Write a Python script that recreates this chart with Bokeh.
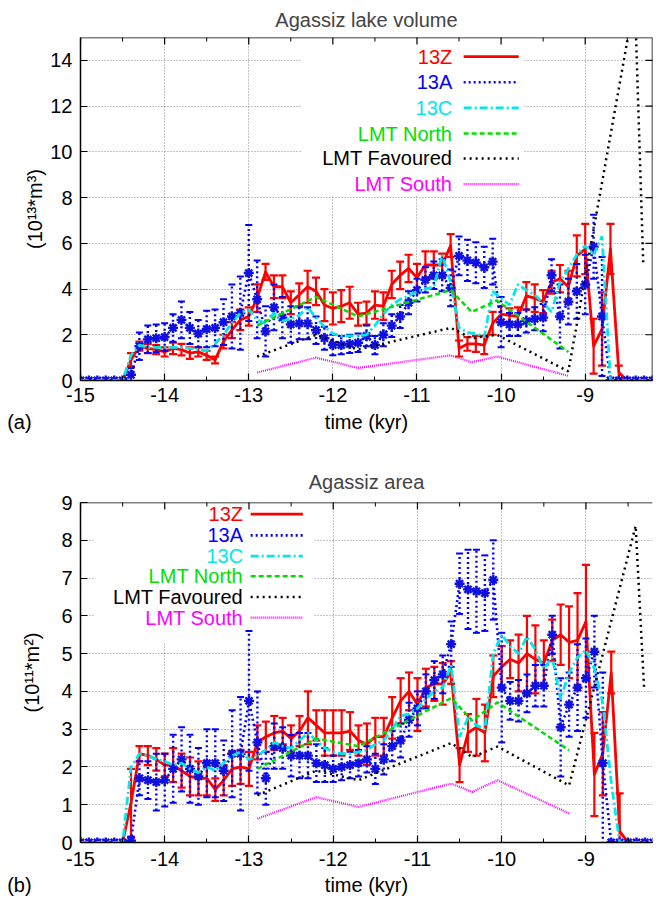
import math
from bokeh.plotting import figure
from bokeh.layouts import column
from bokeh.models import Range1d, FixedTicker, LinearAxis, Span
from bokeh.core.properties import value
from bokeh.embed import file_html
from bokeh.resources import INLINE

FONT = "Liberation Sans"

# ---------------- data ----------------
time_kyr = [-15.0, -14.9, -14.8, -14.7, -14.6, -14.5, -14.4, -14.3, -14.2, -14.1,
            -14.0, -13.9, -13.8, -13.7, -13.6, -13.5, -13.4, -13.3, -13.2, -13.1,
            -13.0, -12.9, -12.8, -12.7, -12.6, -12.5, -12.4, -12.3, -12.2, -12.1,
            -12.0, -11.9, -11.8, -11.7, -11.6, -11.5, -11.4, -11.3, -11.2, -11.1,
            -11.0, -10.9, -10.8, -10.7, -10.6, -10.5, -10.4, -10.3, -10.2, -10.1,
            -10.0, -9.9, -9.8, -9.7, -9.6, -9.5, -9.4, -9.3, -9.2, -9.1,
            -9.0, -8.9, -8.8, -8.7, -8.6, -8.5, -8.4, -8.3, -8.2]

# Lake volume (10^13 m^3)
vol_13Z = [0, 0, 0, 0, 0, 0, 0.9, 1.5, 1.4, 1.35,
           1.25, 1.4, 1.35, 1.2, 1.25, 1.1, 0.9, 1.7, 2.2, 2.65,
           2.8, 3.6, 4.75, 4.1, 4.1, 3.4, 3.75, 4.1, 3.9, 3.3,
           3.15, 3.25, 3.4, 2.9, 2.95, 3.3, 3.25, 4.2, 4.6, 4.9,
           4.5, 5.05, 5.05, 5.05, 5.9, 1.4, 1.6, 1.6, 1.55, 2.5,
           2.9, 2.85, 2.8, 3.7, 3.6, 3.45, 4.3, 4.45, 4.1, 5.45,
           5.75, 1.5, 2.25, 5.75, 0.35, 0, 0, 0, 0]
vol_13Z_err = [0, 0, 0, 0, 0, 0, 0.3, 0.2, 0.2, 0.2,
               0.2, 0.25, 0.25, 0.25, 0.2, 0.2, 0.15, 0.3, 0.35, 0.45,
               0.4, 0.6, 0.35, 0.5, 0.5, 0.5, 0.5, 0.7, 0.6, 0.7,
               0.7, 0.7, 0.7, 0.5, 0.5, 0.6, 0.6, 0.6, 0.6, 0.6,
               0.6, 0.6, 0.6, 0.5, 0.5, 0.35, 0.3, 0.35, 0.4, 0.5,
               0.35, 0.3, 0.4, 0.6, 0.6, 0.5, 0.5, 0.6, 0.7, 0.9,
               1.1, 1.2, 1.6, 1.1, 0.3, 0, 0, 0, 0]
vol_13A = [0, 0, 0, 0, 0, 0, 0.25, 1.5, 1.8, 1.85,
           1.9, 2.3, 2.65, 2.3, 2.05, 2.25, 2.3, 2.55, 2.8, 2.95,
           4.7, 3.55, 2.15, 3.2, 2.75, 2.45, 2.5, 2.5, 2.2, 1.85,
           1.55, 1.55, 1.6, 1.65, 1.95, 1.55, 2.0, 2.4, 2.8, 3.4,
           3.95, 4.4, 4.6, 4.6, 4.05, 5.45, 5.25, 5.15, 4.95, 5.2,
           2.55, 2.45, 2.45, 2.6, 2.7, 2.75, 4.6, 2.8, 3.45, 3.9,
           4.2, 5.85, 2.8, 0, 0, 0, 0, 0, 0]
vol_13A_err = [0, 0, 0, 0, 0, 0, 0.3, 0.6, 0.6, 0.6,
               0.6, 0.6, 0.8, 0.7, 0.6, 0.8, 0.8, 1.0, 1.4, 1.6,
               2.1, 1.7, 1.1, 1.0, 0.9, 0.8, 0.7, 0.7, 0.6, 0.5,
               0.45, 0.4, 0.4, 0.4, 0.45, 0.4, 0.5, 0.5, 0.5, 0.5,
               0.5, 0.55, 0.6, 0.7, 0.8, 0.85, 0.9, 0.9, 0.9, 1.0,
               1.1, 0.5, 0.5, 0.5, 0.5, 0.6, 0.7, 1.4, 1.0, 1.2,
               1.3, 1.4, 2.6, 0, 0, 0, 0, 0, 0]
vol_13C = [0, 0, 0, 0, 0, 0, 1.1, 1.55, 1.45, 1.45,
           1.45, 1.45, 1.45, 1.4, 1.35, 1.3, 1.6, 2.0, 2.5, 2.95,
           3.1, 2.65, 2.5, 2.95, 2.6, 2.7, 2.85, 3.2, 2.75, 2.35,
           2.05, 1.95, 1.95, 1.95, 2.0, 2.4, 2.9, 3.3, 3.55, 3.7,
           3.9, 4.0, 4.1, 5.5, 4.3, 2.3, 2.1, 2.05, 1.9, 3.9,
           3.6, 3.3, 4.2, 3.95, 3.75, 3.4, 3.0, 4.3, 4.9, 5.5,
           5.9, 5.5, 6.3, 0, 0, 0, 0, 0, 0]

lmt_time = [-12.9, -12.2, -11.7, -10.6, -10.35, -10.05, -9.2]
fav_time = [-12.9, -12.2, -11.7, -10.6, -10.35, -10.05, -9.2, -8.41, -8.31]
vol_north = [2.4, 3.65, 2.8, 3.95, 3.0, 3.5, 1.25]
vol_fav = [1.05, 2.0, 1.35, 2.3, 1.85, 2.0, 0.4, 16.7, 5.1]
vol_south = [0.35, 1.0, 0.55, 1.1, 0.8, 1.05, 0.2]

# Lake area (10^11 m^2)
area_13Z = [0, 0, 0, 0, 0, 0, 1.05, 2.35, 2.3, 2.2,
            2.05, 2.05, 1.9, 1.75, 1.7, 1.7, 1.4, 1.65, 1.95, 2.0,
            1.95, 2.65, 2.8, 2.9, 2.95, 2.75, 2.95, 3.3, 3.1, 2.9,
            2.9, 2.9, 2.95, 2.7, 2.6, 2.8, 2.8, 3.3, 3.75, 4.0,
            3.65, 4.1, 4.2, 4.2, 4.5, 2.05, 2.9, 3.05, 2.9, 4.4,
            4.65, 4.85, 4.75, 5.0, 4.85, 4.75, 5.35, 5.5, 5.3, 5.35,
            5.85, 1.8, 2.35, 4.5, 0.3, 0, 0, 0, 0]
area_13Z_err = [0, 0, 0, 0, 0, 0, 0.9, 0.2, 0.25, 0.3,
                0.3, 0.45, 0.45, 0.5, 0.45, 0.45, 0.3, 0.4, 0.45, 0.45,
                0.45, 0.45, 0.4, 0.45, 0.35, 0.35, 0.4, 0.7, 0.4, 0.6,
                0.6, 0.6, 0.5, 0.4, 0.55, 0.5, 0.5, 0.55, 0.6, 0.5,
                0.7, 0.5, 0.45, 0.55, 0.3, 0.45, 0.5, 0.75, 0.75, 0.55,
                0.55, 0.5, 0.75, 1.0, 0.9, 0.6, 0.55, 0.8, 0.95, 1.25,
                1.5, 1.1, 1.1, 0.55, 1.0, 0, 0, 0, 0]
area_13A = [0, 0, 0, 0, 0, 0, 0.05, 1.7, 1.65, 1.6,
            1.65, 1.95, 2.2, 1.95, 1.75, 2.1, 2.1, 1.9, 2.35, 2.35,
            3.75, 2.65, 1.7, 2.55, 2.5, 2.3, 2.3, 2.3, 2.1, 2.05,
            1.95, 2.0, 2.05, 2.1, 2.2, 1.95, 2.2, 2.55, 2.7, 3.25,
            3.55, 4.0, 4.3, 4.45, 5.25, 6.85, 6.7, 6.65, 6.6, 6.95,
            4.1, 3.75, 3.75, 3.95, 4.15, 4.15, 5.5, 3.05, 3.65, 4.1,
            4.35, 5.05, 2.1, 0, 0, 0, 0, 0, 0]
area_13A_err = [0, 0, 0, 0, 0, 0, 0.1, 0.45, 0.5, 0.75,
                0.7, 0.9, 0.85, 0.9, 0.75, 0.9, 0.9, 0.8, 1.15, 1.5,
                1.85, 1.35, 0.7, 0.6, 0.55, 0.55, 0.6, 0.6, 0.5, 0.45,
                0.35, 0.35, 0.35, 0.35, 0.35, 0.4, 0.4, 0.4, 0.45, 0.45,
                0.45, 0.45, 0.5, 0.5, 0.6, 0.8, 1.05, 1.1, 1.0, 1.05,
                1.45, 0.5, 0.55, 0.5, 0.55, 0.55, 0.5, 1.3, 0.85, 1.15,
                1.05, 0.95, 2.4, 0, 0, 0, 0, 0, 0]
area_13C = [0, 0, 0, 0, 0, 0, 2.0, 2.35, 2.3, 2.2,
            2.15, 2.05, 2.1, 1.95, 1.85, 2.0, 1.9, 2.1, 2.3, 2.4,
            2.2, 2.3, 2.45, 2.65, 2.55, 2.5, 2.7, 2.9, 2.7, 2.5,
            2.4, 2.35, 2.35, 2.4, 2.45, 2.6, 2.7, 3.0, 3.35, 3.4,
            3.55, 3.8, 4.0, 4.1, 4.7, 2.8, 3.3, 3.1, 3.0, 5.0,
            5.5, 5.2, 5.0, 5.45, 5.1, 4.6, 4.9, 3.8, 4.5, 4.9,
            5.1, 4.6, 3.7, 1.6, 0, 0, 0, 0, 0]
area_north = [1.95, 2.75, 2.55, 3.82, 3.23, 3.71, 2.44]
area_fav = [1.25, 1.9, 1.65, 2.63, 2.26, 2.54, 1.51, 8.38, 4.1]
area_south = [0.63, 1.2, 0.94, 1.56, 1.34, 1.65, 0.77]

x_ticks = [-15, -14, -13, -12, -11, -10, -9]
x_tick_labels = ["-15", "-14", "-13", "-12", "-11", "-10", "-9"]
x_minor_ticks = [-14.5, -13.5, -12.5, -11.5, -10.5, -9.5, -8.5]
vol_ticks = [0, 2, 4, 6, 8, 10, 12, 14]
vol_tick_labels = ["0", "2", "4", "6", "8", "10", "12", "14"]
area_ticks = [0, 1, 2, 3, 4, 5, 6, 7, 8, 9]
area_tick_labels = ["0", "1", "2", "3", "4", "5", "6", "7", "8", "9"]

key_labels = ["13Z", "13A", "13C", "LMT North", "LMT Favoured", "LMT South"]
x_title = "time (kyr)"

# ---------------- styles ----------------
RED, BLUE, CYAN = "#ff0000", "#0000ff", "#00e8e8"
GREEN, BLACK, MAGENTA = "#00e000", "#000000", "#ff00ff"
key_styles = [
    dict(line_color=RED, line_dash="solid", line_width=2.8),
    dict(line_color=BLUE, line_dash="2 3", line_width=2.6),
    dict(line_color=CYAN, line_dash="8 3 2 3", line_width=2.8),
    dict(line_color=GREEN, line_dash="5 3", line_width=2.5),
    dict(line_color=BLACK, line_dash="2 4", line_width=2.5),
    dict(line_color=MAGENTA, line_dash="1 1", line_width=2.2),
]
key_text_colors = [RED, BLUE, CYAN, GREEN, BLACK, MAGENTA]
NBSP = "\u00a0"


def style_axis(ax, standoff):
    ax.axis_line_color = "black"
    ax.axis_line_width = 1.5
    ax.major_tick_in = 7
    ax.major_tick_out = 0
    ax.major_tick_line_color = "black"
    ax.major_tick_line_width = 1.2
    ax.minor_tick_in = 4
    ax.minor_tick_out = 0
    ax.minor_tick_line_color = "black"
    ax.minor_tick_line_width = 1.0
    ax.major_label_text_font = FONT
    ax.major_label_text_font_size = "20px"
    ax.major_label_text_color = "black"
    ax.major_label_standoff = standoff
    ax.axis_label_text_font = FONT
    ax.axis_label_text_font_size = "20px"
    ax.axis_label_text_font_style = "normal"
    ax.axis_label_text_color = "black"


def make_panel(title, ylabel, x_end, y_max, yticks, ytick_labels, width, height,
               borders, title_standoff, ylab_standoff, row_standoffs, right_side,
               m13Z, e13Z, m13A, e13A, m13C, north, fav, south,
               key_box, key_text_x, key_line_x, key_rows, tag, tag_pad):
    p = figure(width=width, height=height, x_range=Range1d(-15, x_end),
               y_range=Range1d(0, y_max), output_backend="svg",
               toolbar_location=None, min_border_left=borders[0],
               min_border_right=borders[1], min_border_top=borders[2],
               min_border_bottom=borders[3])
    p.outline_line_color = None
    p.background_fill_color = "white"
    p.border_fill_color = "white"

    xt = FixedTicker(ticks=x_ticks, minor_ticks=x_minor_ticks)
    yt = FixedTicker(ticks=yticks, minor_ticks=[])
    xover = {t: l for t, l in zip(x_ticks, x_tick_labels)}
    yover = {t: l for t, l in zip(yticks, ytick_labels)}

    p.xaxis.ticker = xt
    p.xaxis.major_label_overrides = xover
    p.yaxis.ticker = yt
    p.yaxis.major_label_overrides = yover
    for ax in p.xaxis:
        style_axis(ax, row_standoffs[0])
    for ax in p.yaxis:
        style_axis(ax, 8)
        ax.axis_label = ylabel
        ax.axis_label_standoff = ylab_standoff

    # second text row under the x axis: panel tag on the left, axis title centred
    mid = (-15 + x_end) / 2
    row_ax = LinearAxis(ticker=FixedTicker(ticks=[-15, mid], minor_ticks=[]))
    style_axis(row_ax, row_standoffs[1])
    row_ax.axis_line_color = None
    row_ax.major_tick_line_color = None
    row_ax.minor_tick_line_color = None
    row_ax.major_label_overrides = {-15: tag + NBSP * tag_pad, mid: x_title}
    p.add_layout(row_ax, "below")

    p.xgrid.ticker = xt
    p.ygrid.ticker = yt
    p.grid.grid_line_color = "#8a8a8a"
    p.grid.grid_line_dash = "1 2"
    p.grid.grid_line_width = 1

    p.title.text = title
    p.title.align = "center"
    p.title.text_font = FONT
    p.title.text_font_size = "20px"
    p.title.text_font_style = "normal"
    p.title.standoff = title_standoff

    # border lines on the top (and right) of the frame
    p.add_layout(Span(location=y_max, dimension="width", line_color="black",
                      line_width=1.5))
    if right_side:
        p.add_layout(Span(location=x_end, dimension="height", line_color="black",
                          line_width=1.5))

    # opaque key background (hides grid only)
    p.quad(left=[key_box[0]], right=[key_box[1]], bottom=[key_box[2]],
           top=[key_box[3]], fill_color="white", line_color=None)

    # mirrored ticks (the outer half of each marker is clipped by the frame)
    p.scatter(x_ticks, [y_max] * len(x_ticks), marker="dash", size=14,
              angle=math.pi / 2, line_color="black", line_width=1.2)
    p.scatter(x_minor_ticks, [y_max] * len(x_minor_ticks), marker="dash", size=8,
              angle=math.pi / 2, line_color="black", line_width=1.0)
    if right_side:
        p.scatter([x_end] * len(yticks), yticks, marker="dash", size=14,
                  line_color="black", line_width=1.2)

    # 13Z
    lo = [v - e for v, e in zip(m13Z, e13Z)]
    hi = [v + e for v, e in zip(m13Z, e13Z)]
    p.segment(time_kyr, lo, time_kyr, hi, line_color=RED, line_width=2.2)
    p.scatter(time_kyr, lo, marker="dash", size=8, line_color=RED, line_width=2.2)
    p.scatter(time_kyr, hi, marker="dash", size=8, line_color=RED, line_width=2.2)
    p.line(time_kyr, m13Z, line_join="round", **key_styles[0])

    # 13A
    lo = [v - e for v, e in zip(m13A, e13A)]
    hi = [v + e for v, e in zip(m13A, e13A)]
    p.segment(time_kyr, lo, time_kyr, hi, line_color=BLUE, line_width=2.4,
              line_dash="2 3")
    p.scatter(time_kyr, lo, marker="dash", size=7, line_color=BLUE, line_width=2)
    p.scatter(time_kyr, hi, marker="dash", size=7, line_color=BLUE, line_width=2)
    p.line(time_kyr, m13A, **key_styles[1])
    p.scatter(time_kyr, m13A, marker="asterisk", size=10, line_color="#1010e0",
              line_width=2.4)

    # 13C
    p.line(time_kyr, m13C, **key_styles[2])

    # LMT reconstructions
    p.line(lmt_time, north, **key_styles[3])
    p.line(fav_time, fav, **key_styles[4])
    p.line(lmt_time, south, **key_styles[5])

    # key
    p.text(x=[key_text_x] * len(key_labels), y=key_rows, text=key_labels,
           text_color=key_text_colors, text_align="right",
           text_baseline="middle", text_font=value(FONT),
           text_font_size=value("20px"))
    for ry, st in zip(key_rows, key_styles):
        p.segment(x0=[key_line_x[0]], y0=[ry], x1=[key_line_x[1]], y1=[ry], **st)
    return p


p1 = make_panel("Agassiz lake volume", "(10\u00b9\u00b3*m\u00b3)", -8.2, 15,
                vol_ticks, vol_tick_labels, 664, 440, (79, 12, 37, 60), 13, 1,
                (7, 6), True,
                vol_13Z, vol_13Z_err, vol_13A, vol_13A_err, vol_13C,
                vol_north, vol_fav, vol_south,
                (-12.38, -9.74, 8.1, 15.0), -10.58, (-10.445, -9.79),
                [14.16, 13.04, 11.92, 10.80, 9.71, 8.59], "(a)", 22)

p2 = make_panel("Agassiz area", "(10\u00b9\u00b9*m\u00b2)", -8.21, 9,
                area_ticks, area_tick_labels, 664, 462, (80, 0, 62, 60), 20, 15,
                (9, 5), False,
                area_13Z, area_13Z_err, area_13A, area_13A_err, area_13C,
                area_north, area_fav, area_south,
                (-14.84, -12.23, 5.3, 9.0), -13.07, (-12.98, -12.36),
                [8.69, 8.13, 7.58, 7.05, 6.5, 5.95], "(b)", 22)

layout = column(p1, p2)
open("out.html", "w").write(file_html(layout, INLINE))
